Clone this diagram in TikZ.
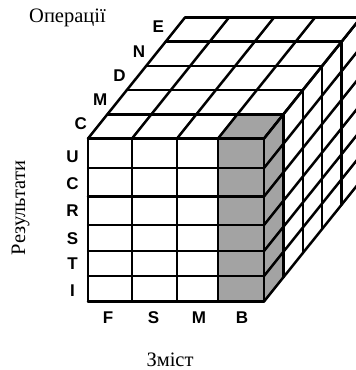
\documentclass[tikz,border=0pt]{standalone}
\usepackage{fontspec}
\setmainfont{Liberation Serif}
\newfontfamily\labfont{Liberation Sans}
\tikzset{
  lab/.style={font=\labfont\bfseries\fontsize{17}{19}\selectfont, inner sep=0pt},
  axis/.style={font=\fontsize{20.5}{24}\selectfont, inner sep=0pt, anchor=base},
  shade/.style={fill=black!36, draw=none}
}
\begin{document}
\begin{tikzpicture}[x=1pt, y=-1pt, line width=2.5pt, line cap=round, line join=round]
\def\dx{19.4}\def\dy{24.2}
\useasboundingbox (0,0) rectangle (356,370);
\clip (0,0) rectangle (356,370);
\fill[shade](218,138.5)rectangle(264,301.5);
\fill[shade](218,138.5)--(264,138.5)--++(\dx,-\dy)--(218+\dx,138.5-\dy)--cycle;
\fill[shade](264,138.5)--++(\dx,-\dy)--(264+\dx,301.5-\dy)--(264,301.5)--cycle;
\foreach \x in {88,132,177,218,264}{
    \draw(\x,138.5)--(\x,301.5);
    \draw(\x,138.5)--++(5*\dx,-5*\dy);}
\foreach \y in {138.5,168,196.5,225,251,276,301.5}{
    \draw(88,\y)--(264,\y);
    \draw(264,\y)--++(5*\dx,-5*\dy);}
\foreach \k in {1,...,5}{
    \draw(88+\k*\dx,138.5-\k*\dy)--(264+\k*\dx,138.5-\k*\dy);
    \draw(264+\k*\dx,138.5-\k*\dy)--(264+\k*\dx,301.5-\k*\dy);}
\foreach \t [count=\k] in {C,M,D,N,E}
    \node[lab](d\k) at ({88+(\k-0.5)*\dx-17},{138.5-(\k-0.5)*\dy-2.5}){\t};
\foreach \t/\y [count=\k] in {U/156.5,C/183.5,R/211,S/238.5,T/264,I/290.5}
    \node[lab](r\k) at (72.5,\y){\t};
\foreach \t/\x [count=\k] in {F/108,S/153.5,M/199,B/242}
    \node[lab](c\k) at (\x,317.5){\t};
\node[axis](ops) at (67.5,22){Операції};
\node[axis](res) at (25,208)[rotate=90]{Результати};
\node[axis](zm) at (170,366.5){Зміст};
\end{tikzpicture}
\end{document}
